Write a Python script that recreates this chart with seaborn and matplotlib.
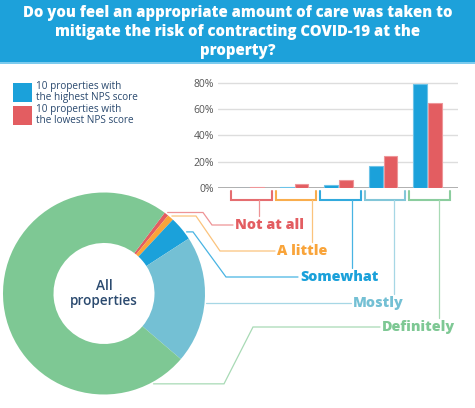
import numpy as np
import pandas as pd
import matplotlib.pyplot as plt
import seaborn as sns
from matplotlib.patches import Rectangle

# --- data -------------------------------------------------------------
categories = ['Not at all', 'A little', 'Somewhat', 'Mostly', 'Definitely']
highest_nps = [0.0, 0.8, 2.0, 16.7, 79.0]    # % of 10 best properties
lowest_nps = [1.0, 2.8, 5.8, 24.5, 64.8]     # % of 10 worst properties
all_properties = [0.7, 1.0, 3.9, 20.4, 74.0]  # % of all properties (donut)
series_names = ['10 properties with\nthe highest NPS score',
                '10 properties with\nthe lowest NPS score']
yticks = [0, 20, 40, 60, 80]

# --- styling ------------------------------------------------------------
cat_colors = ['#E35D61', '#F9A43A', '#1BA1DA', '#74C0D4', '#7EC894']
line_colors = ['#EE9496', '#FBC37C', '#48B4E3', '#A6D7E5', '#A8DAB5']
series_colors = ['#1BA1DA', '#E35D61']
series_edges = ['#6CC3E8', '#EE9699']
navy = '#2B4A6F'
W, H = 475, 408

sns.set_theme(style='white')
plt.rcParams['font.family'] = ['Open Sans', 'DejaVu Sans']

fig = plt.figure(figsize=(W / 100, H / 100), dpi=100)

# full-figure overlay in pixel coordinates (banner, connectors, labels)
over = fig.add_axes([0, 0, 1, 1], zorder=0)
over.set_xlim(0, W)
over.set_ylim(H, 0)
over.axis('off')

over.add_patch(Rectangle((0, 0), W, 62, color='#1DA1DA', lw=0))
over.add_patch(Rectangle((0, 62), W, 2, color='#7CCBEE', lw=0))
title_lines = ['Do you feel an appropriate amount of care was taken to',
               'mitigate the risk of contracting COVID-19 at the',
               'property?']
for i, line in enumerate(title_lines):
    over.text(W / 2, 13 + 19 * i, line, color='white', fontsize=10.7,
              fontweight='heavy', ha='center', va='center')

# legend
for i, (name, col) in enumerate(zip(series_names, series_colors)):
    y0 = 83 + 23 * i
    over.add_patch(Rectangle((13, y0), 18.5, 18.5, color=col, lw=0))
    over.text(36, y0 + 9, name, color=navy, fontsize=7.2, ha='left',
              va='center', linespacing=0.95, fontweight='medium')

# --- grouped bar chart ----------------------------------------------------
px_zero, px_per_pct = 188, 1.316
top_pct = 85
bar_ax = fig.add_axes([218 / W, (H - px_zero) / H, 240 / W,
                       top_pct * px_per_pct / H], zorder=2)
df = pd.DataFrame({
    'category': categories * 2,
    'series': [series_names[0]] * 5 + [series_names[1]] * 5,
    'value': highest_nps + lowest_nps,
})
sns.barplot(data=df, x='category', y='value', hue='series',
            palette=series_colors, width=0.66, gap=0.07, ax=bar_ax,
            legend=False, saturation=1, zorder=3)
for cont, ec in zip(bar_ax.containers, series_edges):
    for bar in cont:
        bar.set_edgecolor(ec)
        bar.set_linewidth(0.8)
bar_ax.set_xlim(-0.713, 4.684)
bar_ax.set_ylim(0, top_pct)
bar_ax.set_yticks(yticks)
bar_ax.set_yticklabels([f'{t}%' for t in yticks], fontsize=7.5,
                       color='#555555')
bar_ax.tick_params(axis='y', length=0, pad=3)
bar_ax.set_xticks([])
bar_ax.set_xlabel('')
bar_ax.set_ylabel('')
for t in yticks[1:]:
    bar_ax.axhline(t, color='#DDDDDD', lw=1, zorder=1)
bar_ax.axhline(0, color='#9A9A9A', lw=1.1, zorder=2)
sns.despine(ax=bar_ax, left=True, bottom=True)
bar_ax.patch.set_alpha(0)

# --- donut -----------------------------------------------------------------
cx, cy, r_px = 104, 293.5, 101
pie_ax = fig.add_axes([(cx - r_px) / W, (H - cy - r_px) / H,
                       2 * r_px / W, 2 * r_px / H], zorder=1)
wedges, _ = pie_ax.pie(all_properties, colors=cat_colors, startangle=53.1,
                       counterclock=False,
                       wedgeprops=dict(width=0.5, edgecolor='none'))
pie_ax.set_xlim(-1, 1)
pie_ax.set_ylim(-1, 1)
pie_ax.text(0, 0, 'All\nproperties', color=navy, fontsize=9.8,
            ha='center', va='center', linespacing=1.0, fontweight='semibold')

# --- connectors & category labels ---------------------------------------------
anchor_frac = [0.5, 0.5, 0.27, 0.47, 0.922]
elbow_x = [203, 196, 193, None, 224]
diag_x = [212, 220, 226, None, 253]
label_x = [235, 277, 300, 353, 382]
label_y = [225, 251, 277, 303, 327]
stem_off = [0.21, 0.40, 0.29, 0.24, 0.26]

to_over = over.transData.inverted()


def gx(v):
    return to_over.transform(bar_ax.transData.transform((v, 0)))[0]


for i, cat in enumerate(categories):
    w = wedges[i]
    ang = np.deg2rad(w.theta1 + anchor_frac[i] * (w.theta2 - w.theta1))
    disp = pie_ax.transData.transform((1.02 * np.cos(ang), 1.02 * np.sin(ang)))
    ax_, ay_ = to_over.transform(disp)
    if elbow_x[i] is None:
        xs = [ax_, label_x[i] - 2]
        ys = [label_y[i], label_y[i]]
    else:
        xs = [ax_, elbow_x[i], diag_x[i], label_x[i] - 2]
        ys = [ay_, ay_, label_y[i], label_y[i]]
    over.plot(xs, ys, color=line_colors[i], lw=0.9, solid_joinstyle='miter')
    over.text(label_x[i], label_y[i], cat, color=cat_colors[i], fontsize=10.3,
              fontweight='heavy', ha='left', va='center')

    # bracket under the bar group + stem down to the label
    xl, xr = gx(i - 0.41), gx(i + 0.50)
    over.plot([xl, xl, xr, xr], [191, 200, 200, 191], color=cat_colors[i],
              lw=1.5, alpha=0.9, solid_joinstyle='miter')
    xs_ = gx(i + stem_off[i])
    over.plot([xs_, xs_], [200, label_y[i] - 9], color=line_colors[i], lw=0.9)

fig.savefig('out.png', dpi=100)
